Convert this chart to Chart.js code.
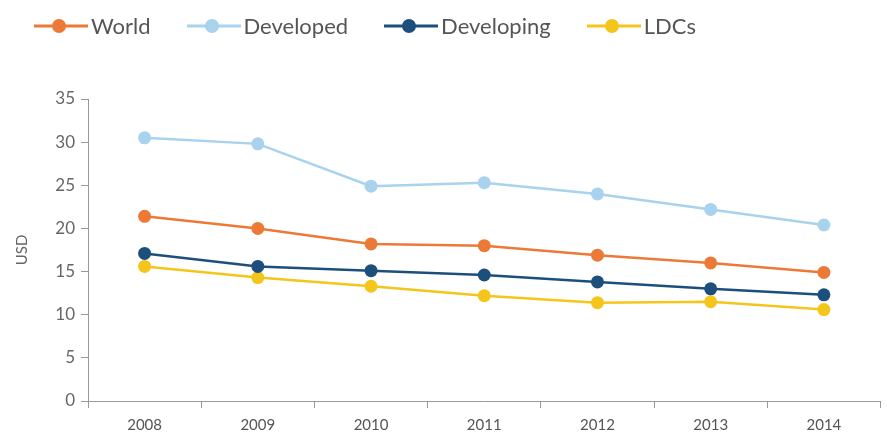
<!DOCTYPE html>
<html>
<head>
<meta charset="utf-8">
<script src="https://cdn.jsdelivr.net/npm/chart.js@4/dist/chart.umd.min.js"></script>
<style>
    html, body { margin: 0; padding: 0; background: #fff; }
    #wrap { width: 887px; height: 434px; position: relative; }
    #legend {
        position: absolute;
        left: 34px;
        top: 12px;
        display: flex;
        align-items: center;
        font-family: 'Lato', sans-serif;
        font-size: 22px;
        color: #555;
    }
    #legend .item { display: flex; align-items: center; margin-right: 36px; }
    #legend canvas { margin-right: 3px; }
</style>
</head>
<body>
<div id="wrap">
    <div id="legend"></div>
    <canvas id="costChart"></canvas>
</div>
<script>
const years = ['2008', '2009', '2010', '2011', '2012', '2013', '2014'];
const world = [21.4, 20.0, 18.2, 18.0, 16.9, 16.0, 14.9];
const developed = [30.5, 29.8, 24.9, 25.3, 24.0, 22.2, 20.4];
const developing = [17.1, 15.6, 15.1, 14.6, 13.8, 13.0, 12.3];
const ldcs = [15.6, 14.3, 13.3, 12.2, 11.4, 11.5, 10.6];

const seriesNames = ['World', 'Developed', 'Developing', 'LDCs'];
const seriesColors = ['#ec7a36', '#a8d2ee', '#1d4f7c', '#f4c61c'];

function makeDataset(i, values) {
    return {
        label: seriesNames[i],
        data: values,
        borderColor: seriesColors[i],
        backgroundColor: seriesColors[i],
        pointRadius: 6.5,
        pointBorderWidth: 0,
        borderWidth: 2.5,
        tension: 0
    };
}

const ctx = document.getElementById('costChart').getContext('2d');
const chart = new Chart(ctx, {
    type: 'line',
    data: {
        labels: years,
        datasets: [
            makeDataset(0, world),
            makeDataset(1, developed),
            makeDataset(2, developing),
            makeDataset(3, ldcs)
        ]
    },
    options: {
        responsive: true,
        maintainAspectRatio: false,
        animation: false,
        layout: {
            padding: { left: 0, right: 5, top: 99, bottom: -8 }
        },
        plugins: {
            legend: { display: false },
            tooltip: { enabled: false }
        },
        scales: {
            x: {
                offset: true,
                grid: {
                    offset: true,
                    drawOnChartArea: false,
                    drawTicks: true,
                    tickLength: 7,
                    color: '#999'
                },
                border: { color: '#999', width: 1 },
                ticks: {
                    color: '#555',
                    padding: 8,
                    font: { family: 'Lato', size: 15 }
                }
            },
            y: {
                min: 0,
                max: 35,
                afterFit(scale) { scale.width = 88; },
                grid: {
                    drawOnChartArea: false,
                    drawTicks: true,
                    tickLength: 7,
                    color: '#999'
                },
                border: { color: '#999', width: 1 },
                ticks: {
                    stepSize: 5,
                    color: '#666',
                    padding: 6,
                    font: { family: 'Lato', size: 17 }
                },
                title: {
                    display: true,
                    text: 'USD',
                    color: '#666',
                    padding: { top: 13, bottom: 0 },
                    font: { family: 'Lato', size: 15 }
                }
            }
        }
    }
});

// legend: short line with a dot, then the series name
const legendBox = document.getElementById('legend');
chart.data.datasets.forEach(ds => {
    const item = document.createElement('div');
    item.className = 'item';
    const mark = document.createElement('canvas');
    mark.width = 54;
    mark.height = 16;
    const g = mark.getContext('2d');
    g.strokeStyle = ds.borderColor;
    g.lineWidth = 3;
    g.beginPath();
    g.moveTo(0, 8);
    g.lineTo(54, 8);
    g.stroke();
    g.fillStyle = ds.borderColor;
    g.beginPath();
    g.arc(25, 8, 7, 0, Math.PI * 2);
    g.fill();
    const label = document.createElement('span');
    label.textContent = ds.label;
    item.appendChild(mark);
    item.appendChild(label);
    legendBox.appendChild(item);
});
</script>
</body>
</html>
